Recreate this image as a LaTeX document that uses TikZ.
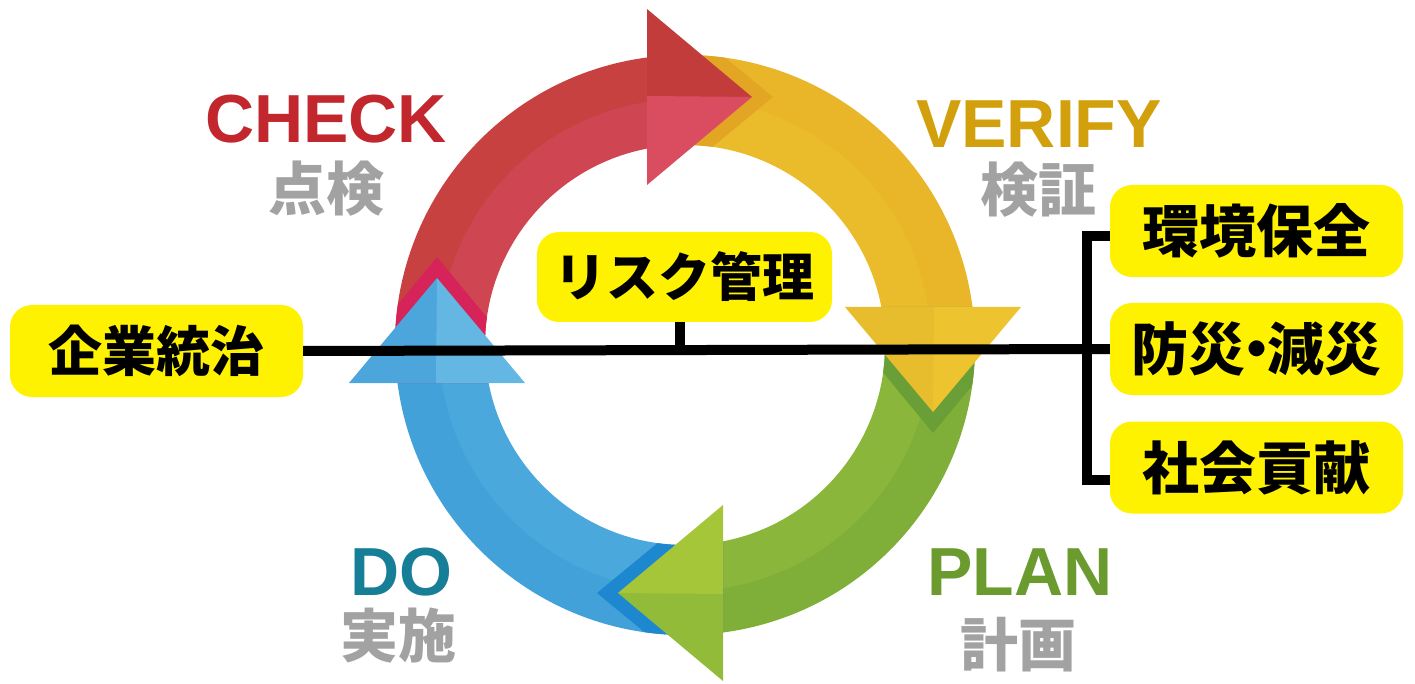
\documentclass[tikz,border=0pt]{standalone}
\usepackage{fontspec}
\setmainfont{Liberation Sans}
\newfontfamily\jp{Noto Sans CJK JP}
\definecolor{redO}{HTML}{C6413F}
\definecolor{redI}{HTML}{CF4652}
\definecolor{redHO}{HTML}{C23C3C}
\definecolor{redHI}{HTML}{DA4D60}
\definecolor{yelO}{HTML}{E8B628}
\definecolor{yelI}{HTML}{EABC2C}
\definecolor{yelHO}{HTML}{EDC42F}
\definecolor{yelHI}{HTML}{E8BD2D}
\definecolor{grnO}{HTML}{80AF39}
\definecolor{grnI}{HTML}{8AB73B}
\definecolor{grnHO}{HTML}{92BB3A}
\definecolor{grnHI}{HTML}{A6C63A}
\definecolor{bluO}{HTML}{42A1D8}
\definecolor{bluI}{HTML}{4AA8DC}
\definecolor{bluHO}{HTML}{4CA6DB}
\definecolor{bluHI}{HTML}{64B7E2}
\definecolor{yelS}{HTML}{E3A524}
\definecolor{grnS}{HTML}{6A9F38}
\definecolor{bluS}{HTML}{1D87CF}
\definecolor{redS}{HTML}{D6235A}
\definecolor{checkred}{HTML}{C1272D}
\definecolor{verifygold}{HTML}{D29F0D}
\definecolor{doteal}{HTML}{167F97}
\definecolor{plangreen}{HTML}{6B9B2F}
\definecolor{graytxt}{HTML}{A2A2A2}
\definecolor{boxyel}{HTML}{FFF200}
\newcommand\pdcaband[3]{%
 \begin{scope}[shift={(685,-345)},rotate=#1]
  \fill[#2] (187:290pt) arc[start angle=187,end angle=97,radius=290pt] -- (97:245pt) arc[start angle=97,end angle=187,radius=245pt] -- cycle;
  \fill[#3] (187:246pt) arc[start angle=187,end angle=97,radius=246pt] -- (97:200pt) arc[start angle=97,end angle=187,radius=200pt] -- cycle;
 \end{scope}}
\newcommand\pdcashadow[2]{%
 \begin{scope}[shift={(685,-345)},rotate=#1]
  \clip (115:290pt) arc[start angle=115,end angle=35,radius=290pt] -- (35:200pt) arc[start angle=35,end angle=115,radius=200pt] -- cycle;
  \fill[#2] (-38,352) -- (88,248) -- (-38,144) -- cycle;
 \end{scope}}
\newcommand\pdcahead[3]{%
 \begin{scope}[shift={(685,-345)},rotate=#1]
  \fill[#2] (-38,336) -- (67,248) -- (-38,247) -- cycle;
  \fill[#3] (-38,160) -- (67,248) -- (-38,249) -- cycle;
 \end{scope}}
\tikzset{
 lat/.style={font=\bfseries\fontsize{68}{68}\selectfont, inner sep=0pt},
 jgray/.style={font=\jp\bfseries\fontsize{58}{58}\selectfont, text=graytxt, inner sep=0pt},
 ybox/.style={fill=boxyel, rounded corners=22pt, minimum width=293pt, minimum height=92pt, inner sep=0pt, font=\jp\bfseries\fontsize{54}{54}\selectfont},
 rbox/.style={ybox, font=\jp\bfseries\fontsize{57}{57}\selectfont},
 conn/.style={line width=10pt, black, line join=miter},
}
\begin{document}
\begin{tikzpicture}[x=1pt,y=1pt]
\useasboundingbox (0,0) rectangle (1415,-684);
% ring bands
\pdcaband{0}{redO}{redI}
\pdcaband{-90}{yelO}{yelI}
\pdcaband{-180}{grnO}{grnI}
\pdcaband{90}{bluO}{bluI}
% shadows of heads on next band
\pdcashadow{0}{yelS}
\pdcashadow{-90}{grnS}
\pdcashadow{-180}{bluS}
\pdcashadow{90}{redS}
% arrow heads
\pdcahead{0}{redHO}{redHI}
\pdcahead{-90}{yelHO}{yelHI}
\pdcahead{-180}{grnHO}{grnHI}
\pdcahead{90}{bluHO}{bluHI}
% labels
\node[lat, text=checkred] (check) at (326,-119) {CHECK};
\node[jgray] (checkjp) at (326,-189) {点検};
\node[lat, text=verifygold] (verify) at (1039,-124) {VERIFY};
\node[jgray] (verifyjp) at (1038,-190) {検証};
\node[lat, text=doteal] (do) at (401,-572) {DO};
\node[jgray] (dojp) at (398,-636) {実施};
\node[lat, text=plangreen] (plan) at (1020,-572) {PLAN};
\node[jgray] (planjp) at (1018,-645) {計画};
% boxes
\node[ybox] (gov) at (156.5,-351) {企業統治};
\node[ybox, minimum width=295pt, minimum height=90pt, font=\jp\bfseries\fontsize{52}{52}\selectfont] (risk) at (684.5,-277) {リスク管理};
\node[rbox] (env) at (1256.5,-231) {環境保全};
\node[rbox] (dis) at (1256.5,-349) {防災\kern-.3em・\kern-.3em減災};
\node[rbox] (soc) at (1256.5,-467.5) {社会貢献};
% connectors
\coordinate (bk) at (1087,-350);
\draw[conn] (gov.east) -- (dis.west);
\draw[conn] ([xshift=-5pt]risk.south) -- ([xshift=-5pt]risk.south |- gov.east);
\draw[conn] ([yshift=-5pt]env.west) -| (bk) |- ([yshift=-12pt]soc.west);
\end{tikzpicture}
\end{document}
